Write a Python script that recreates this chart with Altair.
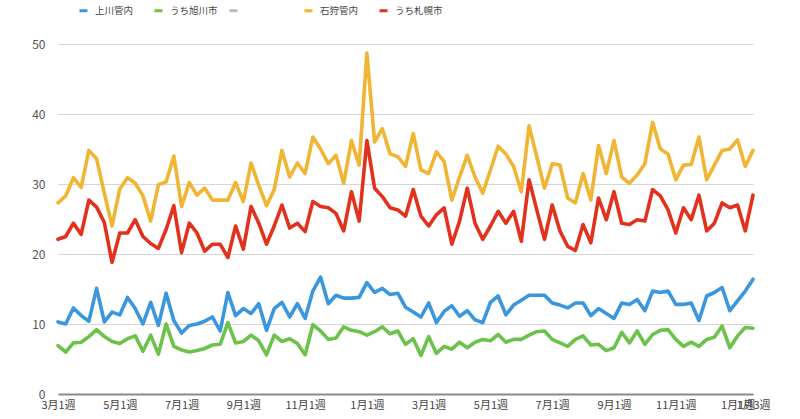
import altair as alt
import pandas as pd

# x categories: weeks labelled "N月M週", 4 weeks per month, starting 3月1週
months = [3, 4, 5, 6, 7, 8, 9, 10, 11, 12, 1, 2]
weeks_per_month = 4
n_weeks = 91
week_labels = [f"{months[(k // weeks_per_month) % 12]}月{k % weeks_per_month + 1}週" for k in range(n_weeks)]
tick_idx = [0, 8, 16, 24, 32, 40, 48, 56, 64, 72, 80, 88, 90]

series_names = ["上川管内", "うち旭川市", " ", "石狩管内", "うち札幌市"]
series_colors = ["#3a96dd", "#6cc24a", "#bbbbbb", "#efb533", "#e2311d"]

kamikawa = [10.3, 10.0, 12.3, 11.2, 10.4, 15.1, 10.3, 11.7, 11.3, 13.8,
            12.2, 10.0, 13.1, 9.8, 14.4, 10.5, 8.7, 9.8, 10.0, 10.4,
            11.0, 9.0, 14.5, 11.2, 12.2, 11.5, 12.9, 9.1, 12.2, 13.1,
            11.0, 12.9, 10.8, 14.7, 16.7, 12.9, 14.1, 13.7, 13.7, 13.8,
            15.9, 14.5, 15.1, 14.2, 14.4, 12.4, 11.7, 11.0, 13.0, 10.2,
            11.8, 12.6, 11.1, 11.9, 10.6, 10.2, 13.1, 14.0, 11.3, 12.7,
            13.4, 14.1, 14.1, 14.1, 13.0, 12.7, 12.3, 13.0, 13.0, 11.2,
            12.2, 11.5, 10.8, 13.0, 12.8, 13.5, 11.9, 14.7, 14.5, 14.7,
            12.8, 12.8, 13.0, 10.5, 14.0, 14.5, 15.2, 11.9, 13.3, 14.7,
            16.4]

asahikawa = [6.9, 6.0, 7.3, 7.4, 8.2, 9.2, 8.2, 7.5, 7.2, 7.9,
             8.3, 6.1, 8.4, 5.7, 10.0, 6.8, 6.3, 6.0, 6.2, 6.5,
             7.0, 7.1, 10.2, 7.3, 7.5, 8.4, 7.6, 5.6, 8.4, 7.5,
             7.9, 7.2, 5.6, 9.9, 9.0, 7.8, 8.0, 9.6, 9.1, 8.9,
             8.4, 8.9, 9.6, 8.6, 9.0, 7.1, 7.9, 5.5, 8.2, 5.8,
             6.8, 6.4, 7.4, 6.6, 7.4, 7.8, 7.6, 8.5, 7.4, 7.8,
             7.8, 8.4, 8.9, 9.0, 7.8, 7.3, 6.8, 7.8, 8.3, 7.0,
             7.1, 6.2, 6.6, 8.8, 7.3, 9.0, 7.1, 8.5, 9.1, 9.2,
             7.8, 6.8, 7.4, 6.8, 7.8, 8.1, 9.7, 6.6, 8.3, 9.5,
             9.4]

ishikari = [27.3, 28.3, 30.9, 29.5, 34.8, 33.6, 28.7, 24.0, 29.3, 30.9,
            30.1, 28.3, 24.7, 29.9, 30.3, 34.0, 26.8, 30.2, 28.4, 29.4,
            27.7, 27.7, 27.7, 30.2, 27.5, 33.0, 29.8, 26.9, 29.2, 34.8,
            31.0, 33.0, 31.5, 36.7, 35.0, 32.9, 34.1, 30.1, 36.2, 32.7,
            48.7, 36.0, 37.9, 34.3, 33.9, 32.5, 37.2, 32.0, 31.5, 34.6,
            33.2, 27.7, 31.0, 34.1, 31.0, 28.7, 32.0, 35.4, 34.3, 32.5,
            28.9, 38.3, 33.9, 29.4, 32.9, 32.7, 28.0, 27.3, 31.5, 27.7,
            35.5, 31.5, 36.2, 31.0, 30.1, 31.3, 32.9, 38.8, 35.0, 34.3,
            30.6, 32.7, 32.8, 36.7, 30.6, 32.7, 34.8, 35.0, 36.3, 32.5,
            34.8]

sapporo = [22.1, 22.5, 24.4, 22.8, 27.7, 26.7, 24.5, 18.8, 23.0, 23.0,
           24.9, 22.5, 21.5, 20.8, 23.5, 26.9, 20.2, 24.4, 23.0, 20.4,
           21.4, 21.4, 19.5, 24.0, 20.7, 26.8, 24.4, 21.4, 24.0, 27.0,
           23.7, 24.4, 23.2, 27.5, 26.8, 26.6, 25.8, 23.3, 28.9, 24.7,
           36.2, 29.4, 28.2, 26.6, 26.3, 25.4, 29.2, 25.4, 24.0, 25.6,
           26.6, 21.4, 24.7, 29.4, 24.4, 22.1, 24.0, 26.1, 24.4, 26.1,
           21.8, 30.6, 26.3, 22.1, 27.0, 23.3, 21.1, 20.5, 24.2, 21.6,
           28.0, 24.9, 28.9, 24.4, 24.2, 24.9, 24.7, 29.2, 28.3, 26.3,
           23.0, 26.6, 24.9, 28.4, 23.3, 24.4, 27.3, 26.6, 27.0, 23.3,
           28.4]

rows = []
for name, vals in [("上川管内", kamikawa), ("うち旭川市", asahikawa),
                   ("石狩管内", ishikari), ("うち札幌市", sapporo)]:
    for i, v in enumerate(vals):
        rows.append({"idx": i, "series": name, "value": v})
df = pd.DataFrame(rows)

label_js = "[" + ",".join(f"'{s}'" for s in week_labels) + "]"

FONT = "Noto Sans CJK JP"

chart = alt.Chart(df).mark_line(strokeWidth=3.6, strokeJoin="round", strokeCap="round").encode(
    x=alt.X("idx:Q",
            scale=alt.Scale(domain=[0, n_weeks - 1], nice=False, zero=False),
            axis=alt.Axis(values=tick_idx, labelExpr=f"{label_js}[datum.value]",
                          grid=False, ticks=False, domainColor="#8a8a8a", domainWidth=2,
                          labelOverlap=False, labelFlush=False, labelBound=False,
                          labelPadding=5, labelFontSize=11, labelColor="#444444",
                          title=None)),
    y=alt.Y("value:Q",
            scale=alt.Scale(domain=[0, 50], nice=False),
            axis=alt.Axis(values=[0, 10, 20, 30, 40, 50], ticks=False, domain=False,
                          gridColor="#d6d6d6", gridWidth=1.2, labelPadding=13,
                          labelFontSize=12, labelColor="#555555", title=None)),
    color=alt.Color("series:N",
                    scale=alt.Scale(domain=series_names, range=series_colors),
                    legend=alt.Legend(orient="none", legendX=20, legendY=-39,
                                      direction="horizontal", title=None,
                                      gridAlign="all",
                                      symbolType="stroke", symbolStrokeWidth=3,
                                      symbolSize=64, labelFontSize=9.5,
                                      labelColor="#444444", columnPadding=5,
                                      labelOffset=6)),
    detail="series:N",
).properties(
    width=695, height=350,
    padding={"left": 58, "top": 44, "right": 47, "bottom": 25},
    autosize=alt.AutoSizeParams(type="none"),
).configure(font=FONT).configure_view(stroke=None)

chart.save("out.html", embed_options={"renderer": "svg", "actions": False})
